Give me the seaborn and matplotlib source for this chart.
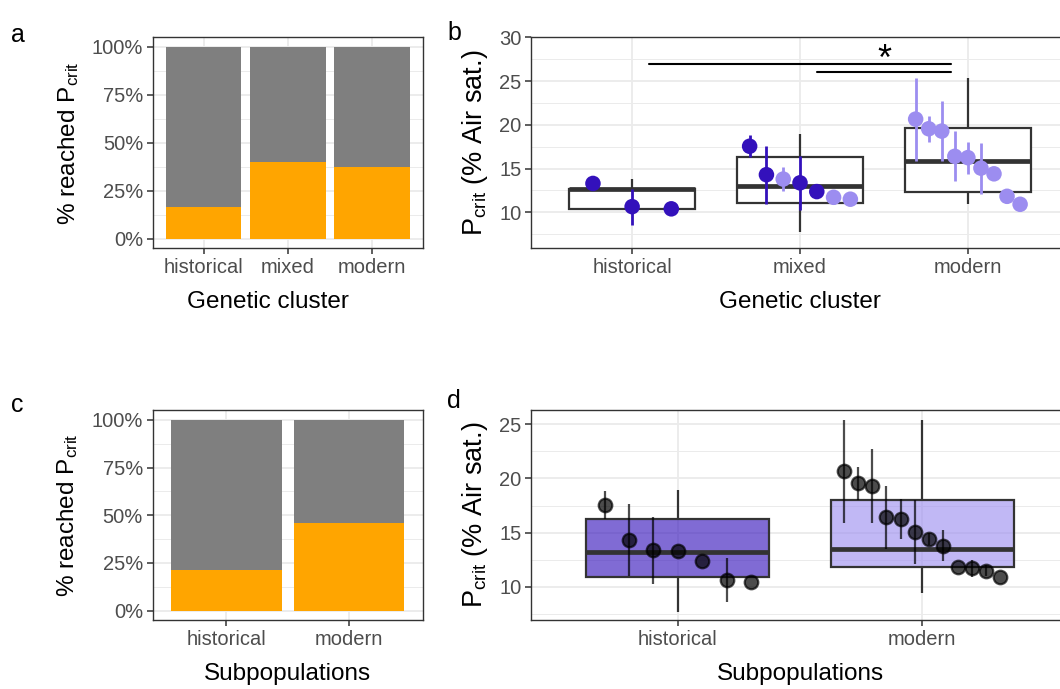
import numpy as np
import pandas as pd
import matplotlib
matplotlib.use("Agg")
import matplotlib.pyplot as plt
from matplotlib.ticker import FuncFormatter, MultipleLocator, FixedLocator
import seaborn as sns

# ---- share of fish that reached Pcrit ----
cluster_levels = ["historical", "mixed", "modern"]
cluster_reached_pct = [16.7, 40.0, 37.5]
subpop_levels = ["historical", "modern"]
subpop_reached_pct = [21.4, 45.7]

# ---- family means of Pcrit (% air saturation) with standard errors ----
family_cluster = ["historical"] * 3 + ["mixed"] * 7 + ["modern"] * 9
family_subpop = (["historical"] * 3
                 + ["historical", "historical", "modern", "historical",
                    "historical", "modern", "modern"]
                 + ["modern"] * 9)
family_mean = [13.3, 10.65, 10.4,
               17.55, 14.3, 13.8, 13.37, 12.37, 11.72, 11.5,
               20.65, 19.55, 19.28, 16.4, 16.25, 15.05, 14.4, 11.83, 10.92]
family_se = [0.0, 2.05, 0.0,
             1.25, 3.3, 1.4, 3.1, 0.0, 0.8, 0.5,
             4.75, 1.5, 3.4, 2.87, 1.83, 2.92, 0.55, 0.0, 0.0]

# ---- box summaries: lower whisker, Q1, median, Q3, upper whisker ----
box_cluster_historical = [10.42, 10.42, 12.68, 12.68, 13.82]
box_cluster_mixed = [7.76, 11.07, 12.97, 16.30, 19.00]
box_cluster_modern = [10.99, 12.33, 15.84, 19.58, 25.38]
box_subpop_historical = [7.70, 10.92, 13.23, 16.30, 18.97]
box_subpop_modern = [9.45, 11.81, 13.47, 18.02, 25.37]

# ---- significance brackets ----
sig_pairs = [("historical", "modern"), ("mixed", "modern")]
sig_heights = [27.0, 26.0]
sig_label = "*"

DARK = "#3311BB"
LIGHT = "#9C8DF0"
ORANGE = "#FFA500"
GREY = "#7F7F7F"
subpop_palette = {"historical": DARK, "modern": LIGHT}

sns.set_theme(style="white")
plt.rcParams["font.family"] = ["Liberation Sans", "DejaVu Sans"]
plt.rcParams["mathtext.default"] = "regular"

TICK_FS = 14.5
TITLE_FS = 17.5
PCRIT_FS = 19.5
PCRIT_LABEL = "P$_{crit}$ (% Air sat.)"

W, H = 1060, 689
fig = plt.figure(figsize=(W / 100, H / 100), dpi=100)


def px_axes(left, top, right, bottom):
    return fig.add_axes([left / W, 1 - bottom / H, (right - left) / W, (bottom - top) / H])


ax_a = px_axes(153.0, 37.3, 422.7, 248.3)
ax_b = px_axes(531.4, 37.3, 1068.6, 248.3)
ax_c = px_axes(152.6, 410.3, 422.9, 620.1)
ax_d = px_axes(531.4, 410.3, 1068.6, 620.1)


def style(ax, minor_step):
    ax.set_facecolor("white")
    ax.yaxis.set_minor_locator(MultipleLocator(minor_step))
    ax.grid(True, which="major", color="#EBEBEB", lw=1.3)
    ax.grid(True, which="minor", axis="y", color="#EBEBEB", lw=0.7)
    ax.grid(False, which="minor", axis="x")
    ax.set_axisbelow(True)
    for s in ax.spines.values():
        s.set_visible(True)
        s.set_color("#333333")
        s.set_linewidth(1.0)
    ax.tick_params(which="major", length=4, width=1.1, color="#333333",
                   labelsize=TICK_FS, labelcolor="#4D4D4D", pad=3,
                   bottom=True, left=True)
    ax.tick_params(which="minor", length=0)


def bar_panel(ax, levels, pct, xlabel, xlabel_pos=0.5):
    df = pd.DataFrame({"group": levels, "total": 100.0, "reached": pct})
    sns.barplot(data=df, x="group", y="total", order=levels, color=GREY,
                saturation=1, width=0.9, errorbar=None, linewidth=0,
                edgecolor="none", ax=ax, zorder=2)
    sns.barplot(data=df, x="group", y="reached", order=levels, color=ORANGE,
                saturation=1, width=0.9, errorbar=None, linewidth=0,
                edgecolor="none", ax=ax, zorder=3)
    style(ax, 12.5)
    ax.set_xlim(-0.6, len(levels) - 0.4)
    ax.set_ylim(-5, 105)
    ax.yaxis.set_major_locator(FixedLocator([0, 25, 50, 75, 100]))
    ax.yaxis.set_major_formatter(FuncFormatter(lambda v, _: f"{v:.0f}%"))
    ax.set_xticks(range(len(levels)))
    ax.set_xticklabels(levels)
    ax.set_xlabel(xlabel, fontsize=TITLE_FS, color="black", labelpad=10)
    ax.xaxis.label.set_x(xlabel_pos)
    ax.set_ylabel("% reached P$_{crit}$", fontsize=TITLE_FS, color="black", labelpad=8)


def box_panel(ax, levels, boxes, fills=None):
    bdf = pd.DataFrame({"group": np.repeat(levels, 5),
                        "value": np.concatenate(boxes)})
    kw = dict(data=bdf, x="group", y="value", order=levels, width=0.75,
              whis=1.5, showcaps=False, showfliers=False,
              linecolor="#333333", linewidth=1.6,
              medianprops=dict(linewidth=3.4, color="#333333"), ax=ax)
    if fills is None:
        sns.boxplot(color="white", saturation=1, **kw)
    else:
        sns.boxplot(hue="group", hue_order=levels, palette=fills,
                    saturation=1, legend=False, **kw)
        for patch in ax.patches:
            r, g, b, _ = patch.get_facecolor()
            patch.set_facecolor((r, g, b, 0.62))


def dodged(frame, key, levels, width=0.7):
    parts = []
    for i, lev in enumerate(levels):
        sub = frame[frame[key] == lev].sort_values("mean", ascending=False,
                                                   kind="mergesort").copy()
        n = len(sub)
        sub["xpos"] = i + (np.arange(n) - (n - 1) / 2) * width / n
        parts.append(sub)
    return pd.concat(parts)


fam = pd.DataFrame({"cluster": family_cluster, "subpop": family_subpop,
                    "mean": family_mean, "se": family_se})

# ---- a: genetic cluster, reached Pcrit ----
bar_panel(ax_a, cluster_levels, cluster_reached_pct, "Genetic cluster",
          xlabel_pos=0.427)

# ---- c: subpopulations, reached Pcrit ----
bar_panel(ax_c, subpop_levels, subpop_reached_pct, "Subpopulations")

# ---- b: Pcrit by genetic cluster ----
box_panel(ax_b, cluster_levels,
          [box_cluster_historical, box_cluster_mixed, box_cluster_modern])
pb = dodged(fam, "cluster", cluster_levels)
eb = pb[pb["se"] > 0]
ax_b.vlines(eb["xpos"], eb["mean"] - eb["se"], eb["mean"] + eb["se"],
            colors=[subpop_palette[s] for s in eb["subpop"]], lw=2.0, zorder=4)
sns.scatterplot(data=pb, x="xpos", y="mean", hue="subpop",
                palette=subpop_palette, s=125, linewidth=0, legend=False,
                ax=ax_b, zorder=5)
for (g1, g2), h in zip(sig_pairs, sig_heights):
    x1 = cluster_levels.index(g1) + 0.1
    x2 = cluster_levels.index(g2) - 0.1
    ax_b.plot([x1, x2], [h, h], color="black", lw=1.5, zorder=5)
g1, g2 = sig_pairs[-1]
star_x = (cluster_levels.index(g1) + cluster_levels.index(g2)) / 2
ax_b.text(star_x, max(sig_heights) - 0.75, sig_label, ha="center", va="baseline",
          fontsize=26, color="black", zorder=6)
style(ax_b, 2.5)
ax_b.yaxis.set_major_locator(MultipleLocator(5))
ax_b.set_xlim(-0.6, len(cluster_levels) - 0.4)
ax_b.set_ylim(5.89, 30.0)
ax_b.set_xticks(range(len(cluster_levels)))
ax_b.set_xticklabels(cluster_levels)
ax_b.set_xlabel("Genetic cluster", fontsize=TITLE_FS, color="black", labelpad=10)
ax_b.set_ylabel(PCRIT_LABEL, fontsize=PCRIT_FS, color="black", labelpad=7)

# ---- d: Pcrit by subpopulation ----
box_panel(ax_d, subpop_levels, [box_subpop_historical, box_subpop_modern],
          fills=subpop_palette)
pdd = dodged(fam, "subpop", subpop_levels)
ed = pdd[pdd["se"] > 0]
ax_d.vlines(ed["xpos"], ed["mean"] - ed["se"], ed["mean"] + ed["se"],
            colors=[(0, 0, 0, 0.7)], lw=1.6, zorder=4)
sns.scatterplot(data=pdd, x="xpos", y="mean", color="black", alpha=0.7,
                s=95, edgecolor="black", linewidth=1.6, legend=False,
                ax=ax_d, zorder=5)
style(ax_d, 2.5)
ax_d.yaxis.set_major_locator(MultipleLocator(5))
ax_d.set_xlim(-0.6, len(subpop_levels) - 0.4)
ax_d.set_ylim(6.93, 26.29)
ax_d.set_xticks(range(len(subpop_levels)))
ax_d.set_xticklabels(subpop_levels)
ax_d.set_xlabel("Subpopulations", fontsize=TITLE_FS, color="black", labelpad=10)
ax_d.set_ylabel(PCRIT_LABEL, fontsize=PCRIT_FS, color="black", labelpad=7)

# ---- panel letters ----
for letter, (x, y) in {"a": (11, 42.3), "b": (447, 40), "c": (11, 411.7),
                       "d": (447, 408)}.items():
    fig.text(x / W, 1 - y / H, letter, fontsize=18, color="black",
             va="baseline", ha="left")

fig.savefig("out.png", dpi=100)
